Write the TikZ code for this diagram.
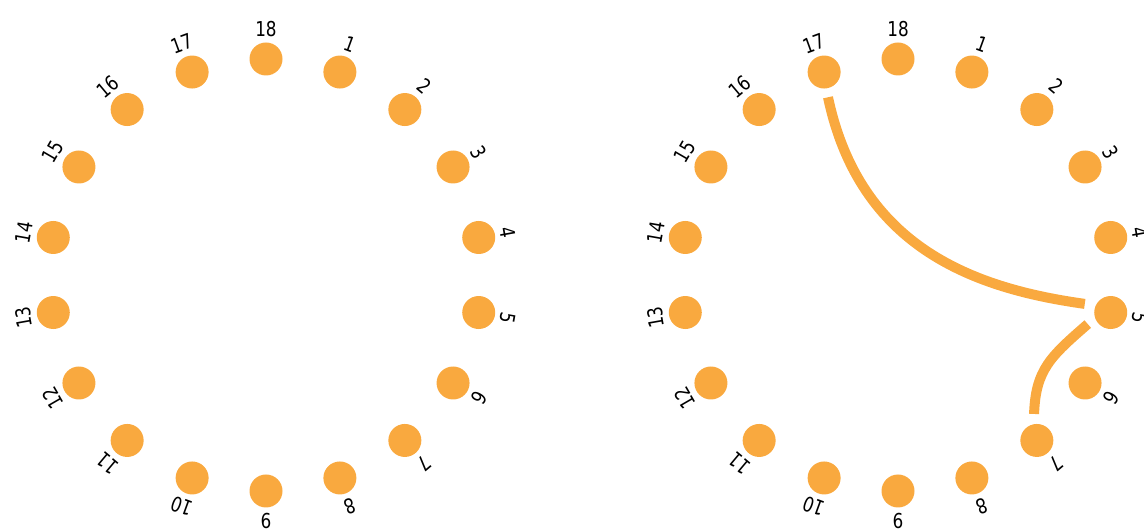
\documentclass[tikz,border=0pt]{standalone}
\usepackage{fontspec}
\setmainfont{DejaVu Sans}[FakeStretch=0.82]
\usetikzlibrary{calc}
\definecolor{dotorange}{RGB}{249,169,63}
\begin{document}
\begin{tikzpicture}[x=1pt,y=1pt,
  dotnode/.style={circle,fill=dotorange,draw=none,minimum size=33pt,inner sep=0pt},
  numlabel/.style={font=\fontsize{20.5}{24}\selectfont,inner sep=0pt,text=black},
  chord/.style={draw=dotorange,line width=10pt}]
\clip (0,0) rectangle (1144,530);
\useasboundingbox (0,0) rectangle (1144,530);
\coordinate (Lc) at (266,255);
\coordinate (Rc) at (898,255);
\foreach \side in {L,R}{
  \foreach \k in {1,...,18}{
    \pgfmathsetmacro\ang{90-20*\k}
    \node[dotnode] (\side\k) at ($(\side c)+(\ang:216)$) {};
    \node[numlabel,rotate=\ang-90] (\side t\k) at ($(\side c)+(\ang:246)$) {\k};
  }
}
% chord end points
\coordinate (Ra17) at ($(Rc)+(111.5:191)$);
\coordinate (Ra5) at ($(Rc)+(-8.8:189)$);
\coordinate (Rb5) at ($(Rc)+(-14.5:196)$);
\coordinate (Rb7) at ($(Rc)+(-45.6:194.5)$);
\draw[chord] (Ra17) .. controls +(-78:155) and +(172:110) .. (Ra5);
\draw[chord] (Rb5) .. controls +(221:50) and +(88:44) .. (Rb7);
\end{tikzpicture}
\end{document}
